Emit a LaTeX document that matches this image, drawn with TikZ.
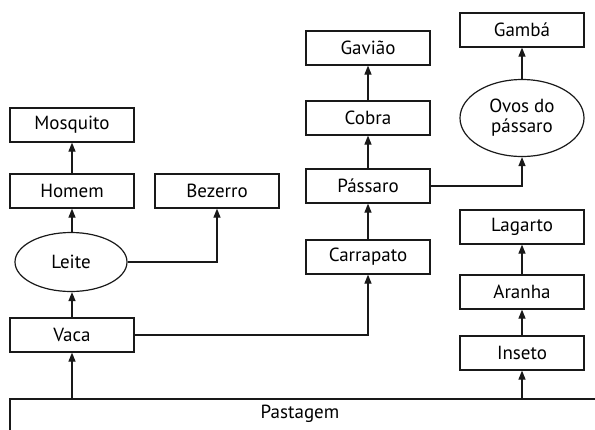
\documentclass[tikz,border=0pt]{standalone}
\usepackage{fontspec}
\setmainfont{PT Sans}
\usetikzlibrary{arrows.meta,shapes.geometric}
\begin{document}
\begin{tikzpicture}[x=1pt,y=-1pt,
  every node/.style={font=\fontsize{19}{21}\selectfont},
  ln/.style={line width=1.2pt,draw=black!90},
  box/.style={ln,draw,rectangle,minimum width=124pt,minimum height=34pt,inner sep=0pt},
  ell/.style={ln,draw,ellipse,inner sep=0pt},
  arr/.style={ln,-{Triangle[length=9pt,width=7pt]}}]
\useasboundingbox (0,0) rectangle (595,429);
% nodes
\node[box] (mosq) at (72,125) {Mosquito};
\node[box] (homem) at (72,191) {Homem};
\node[box] (bez) at (217,191) {Bezerro};
\node[ell,minimum width=112pt,minimum height=59pt] (leite) at (71,262) {Leite};
\node[box,minimum width=124pt] (vaca) at (72,335) {Vaca};
\node[box] (carr) at (368,257) {Carrapato};
\node[box] (pass) at (368,186) {Pássaro};
\node[box] (cobra) at (368,118) {Cobra};
\node[box] (gav) at (368,48) {Gavião};
\node[box] (gamba) at (522,30) {Gambá};
\node[ell,minimum width=124pt,minimum height=77pt,align=center,inner sep=0pt] (ovos) at (522,118) {Ovos do\\[-1pt]pássaro};
\node[box] (lag) at (522,227) {Lagarto};
\node[box] (aran) at (522,292) {Aranha};
\node[box] (ins) at (522,353) {Inseto};
\node (past) at (300,414) {Pastagem};
\draw[ln] (10,432) -- (10,399) -- (600,399);
\coordinate (p1) at (72,399);
\coordinate (p2) at (522,399);
% connectors
\draw[arr] (p1) -- (vaca.south);
\draw[arr] (vaca.north) -- (vaca.north |- leite.south);
\draw[arr] (leite.north -| homem.south) -- (homem.south);
\draw[arr] (homem.north) -- (mosq.south);
\draw[arr] (leite.east) -| (bez.south);
\draw[arr] (vaca.east) -| (carr.south);
\draw[arr] (carr.north) -- (pass.south);
\draw[arr] (pass.north) -- (cobra.south);
\draw[arr] (cobra.north) -- (gav.south);
\draw[arr] (pass.east) -| (ovos.south);
\draw[arr] (ovos.north) -- (gamba.south);
\draw[arr] (p2) -- (ins.south);
\draw[arr] (ins.north) -- (aran.south);
\draw[arr] (aran.north) -- (lag.south);
\end{tikzpicture}
\end{document}
